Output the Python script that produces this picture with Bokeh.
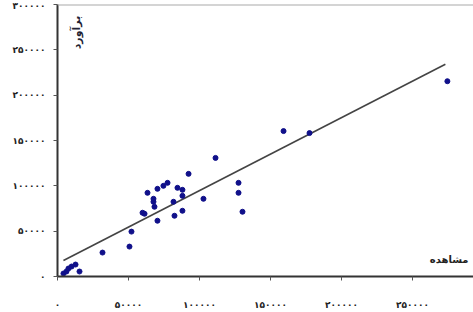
from bokeh.plotting import figure
from bokeh.models import Label, Span, FixedTicker, Range1d
from bokeh.embed import file_html
from bokeh.resources import INLINE

# observed vs estimated values
observed = [4200, 6300, 7700, 9900, 12700, 15500, 31700, 111300, 92300, 77500,
            74600, 70400, 63400, 84500, 88000, 88000, 67600, 67600, 81700, 102800,
            127500, 127500, 68300, 130300, 88000, 59900, 61300, 82400, 70400, 52100,
            50700, 159200, 177500, 274600]
estimated = [3300, 5500, 8800, 11000, 13200, 5500, 26400, 130800, 113200, 103300,
             100000, 96700, 92300, 97800, 95600, 89000, 85700, 82400, 82400, 85700,
             103300, 92300, 76900, 71400, 72500, 70300, 69200, 67000, 61500, 49500,
             33000, 160400, 158200, 215400]

# fitted line end points
fit_x = [4200, 273200]
fit_y = [17600, 234100]

tick_values = [0, 50000, 100000, 150000, 200000, 250000, 300000]
tick_labels = ["۰", "۵۰۰۰۰", "۱۰۰۰۰۰", "۱۵۰۰۰۰", "۲۰۰۰۰۰", "۲۵۰۰۰۰", "۳۰۰۰۰۰"]

x_title = "مشاهده"
y_title = "برآورد"

FONT = "DejaVu Sans"

p = figure(width=473, height=312, output_backend="svg", toolbar_location=None,
           x_range=Range1d(0, 293000), y_range=Range1d(0, 300000),
           min_border_left=57, min_border_right=0, min_border_top=4,
           min_border_bottom=35)
p.grid.visible = False
p.outline_line_color = None
p.background_fill_color = "white"

overrides = {v: t for v, t in zip(tick_values, tick_labels)}
for ax in (p.xaxis[0], p.yaxis[0]):
    ax.ticker = FixedTicker(ticks=tick_values)
    ax.major_label_overrides = overrides
    ax.axis_line_color = "#333333"
    ax.axis_line_width = 2
    ax.major_tick_line_color = "#555555"
    ax.major_tick_in = 0
    ax.major_tick_out = 4
    ax.minor_tick_line_color = None
    ax.major_label_text_font = FONT
    ax.major_label_text_font_size = "9px"
    ax.major_label_text_font_style = "bold"
    ax.major_label_text_color = "#222222"

p.xaxis[0].major_label_standoff = 19
p.yaxis[0].major_label_standoff = 8

p.add_layout(Span(location=300000, dimension="width", line_color="#aaaaaa", line_width=2))

p.line(fit_x, fit_y, line_color="#444444", line_width=1.6)
p.scatter(observed, estimated, size=5, fill_color="#10108a", line_color="#10108a")

p.add_layout(Label(x=411, y=12, x_units="screen", y_units="screen", text=x_title,
                   text_font=FONT, text_font_size="10px", text_font_style="bold",
                   text_color="#222222", text_align="right"))
p.add_layout(Label(x=26, y=244, x_units="screen", y_units="screen", text=y_title,
                   text_font=FONT, text_font_size="11px", text_font_style="bold",
                   text_color="#222233", text_align="center", angle=1.5708))

open("out.html", "w").write(file_html(p, INLINE))
